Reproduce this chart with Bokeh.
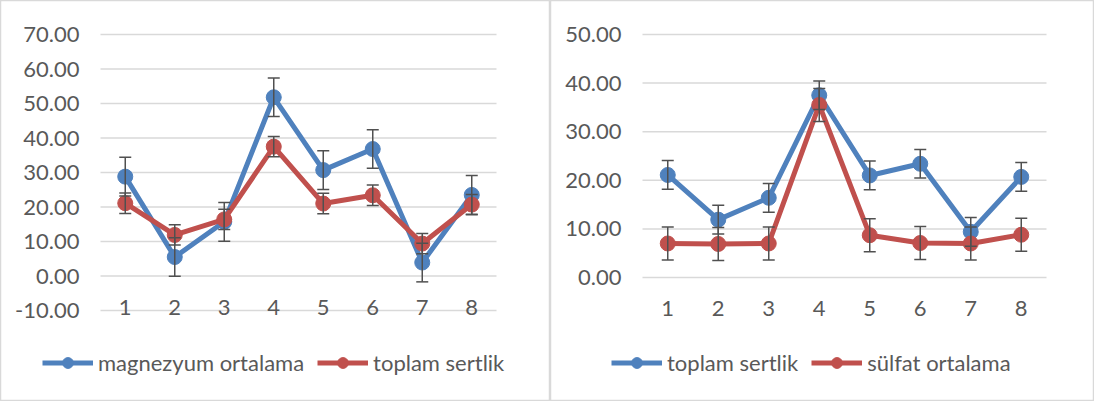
from bokeh.plotting import figure
from bokeh.models import (ColumnDataSource, Range1d, Whisker, TeeHead, Legend, LegendItem)
from bokeh.core.properties import value
from bokeh.layouts import row
from bokeh.embed import file_html
from bokeh.resources import INLINE

categories = ["1", "2", "3", "4", "5", "6", "7", "8"]
magnezyum = [28.8, 5.5, 15.7, 51.8, 30.7, 36.8, 3.9, 23.5]
magnezyum_err = [5.6, 5.6, 5.6, 5.6, 5.6, 5.6, 5.6, 5.6]
sertlik = [21.1, 11.9, 16.4, 37.5, 21.0, 23.4, 9.4, 20.7]
sertlik_err = [2.95, 2.95, 2.95, 2.95, 2.95, 2.95, 2.95, 2.95]
sulfat = [7.0, 6.9, 7.0, 35.5, 8.7, 7.1, 7.0, 8.8]
sulfat_err = [3.4, 3.4, 3.4, 3.4, 3.4, 3.4, 3.4, 3.4]
left_ticks = [-10, 0, 10, 20, 30, 40, 50, 60, 70]
right_ticks = [0, 10, 20, 30, 40, 50]

BLUE = "#4F81BD"
RED = "#C0504D"
TXT = "#595959"
GRID = "#D9D9D9"
FONT = "Lato"
FS = "22px"
H = 401


def make_chart(series, ticks, width, plot_left, plot_right, plot_top, plot_bottom,
               xlab_offset, leg_loc):
    n = len(categories)
    xs = list(range(1, n + 1))
    # map the pixel geometry of the plot area (in figure pixels) to data ranges
    ux = (plot_right - plot_left) / n
    x0 = 0.5 - plot_left / ux
    x1 = x0 + width / ux
    uy = (plot_bottom - plot_top) / (ticks[-1] - ticks[0])
    y1 = ticks[-1] + plot_top / uy
    y0 = ticks[0] - (H - plot_bottom) / uy

    p = figure(width=width, height=H, x_range=Range1d(x0, x1), y_range=Range1d(y0, y1),
               output_backend="svg", toolbar_location=None, title=None,
               min_border_left=0, min_border_right=0, min_border_top=0, min_border_bottom=0)
    p.xaxis.visible = False
    p.yaxis.visible = False
    p.xgrid.visible = False
    p.ygrid.visible = False
    p.outline_line_color = GRID
    p.outline_line_width = 1.5
    p.background_fill_color = "white"
    p.border_fill_color = "white"

    # horizontal gridlines over the category span
    p.segment(x0=[0.5] * len(ticks), x1=[n + 0.5] * len(ticks), y0=ticks, y1=ticks,
              line_color=GRID, line_width=1.5)
    # value-axis labels
    p.text(x=[0.5] * len(ticks), y=ticks, text=["%.2f" % t for t in ticks],
           x_offset=-21, text_align="right", text_baseline="middle",
           text_font=value(FONT), text_font_size=FS, text_color=TXT)
    # category-axis labels
    p.text(x=xs, y=[ticks[0]] * n, text=categories, y_offset=xlab_offset,
           text_align="center", text_baseline="middle",
           text_font=value(FONT), text_font_size=FS, text_color=TXT)

    items = []
    for name, vals, errs, color in series:
        src = ColumnDataSource(dict(x=xs, y=vals,
                                    lo=[v - e for v, e in zip(vals, errs)],
                                    hi=[v + e for v, e in zip(vals, errs)]))
        w = Whisker(source=src, base="x", upper="hi", lower="lo", dimension="height",
                    line_color="#505050", line_width=1.5, level="glyph",
                    upper_head=TeeHead(size=12, line_color="#505050", line_width=1.5),
                    lower_head=TeeHead(size=12, line_color="#505050", line_width=1.5))
        p.add_layout(w)
        ln = p.line("x", "y", source=src, line_color=color, line_width=5, line_join="round")
        sc = p.scatter("x", "y", source=src, size=15, fill_color=color, line_color=color)
        items.append(LegendItem(label=name, renderers=[ln, sc]))

    leg = Legend(items=items, orientation="horizontal", location=leg_loc,
                 glyph_width=51, glyph_height=27, label_standoff=5, spacing=13,
                 padding=0, margin=0, border_line_alpha=0, background_fill_alpha=0,
                 label_text_font=FONT, label_text_font_size=FS, label_text_color=TXT)
    p.add_layout(leg, "center")
    return p


left = make_chart([("magnezyum ortalama", magnezyum, magnezyum_err, BLUE),
                   ("toplam sertlik", sertlik, sertlik_err, RED)],
                  left_ticks, 550, 100, 496, 34, 310, -3, (42, 25))
right = make_chart([("toplam sertlik", sertlik, sertlik_err, BLUE),
                    ("sülfat ortalama", sulfat, sulfat_err, RED)],
                   right_ticks, 544, 92, 496, 34, 277, 31, (61, 25))

layout = row(left, right)
open("out.html", "w").write(file_html(layout, INLINE))
